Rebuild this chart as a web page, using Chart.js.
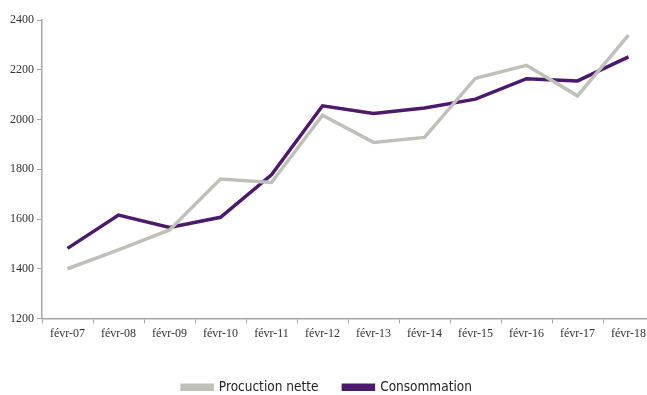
<!DOCTYPE html>
<html>
<head>
<meta charset="utf-8">
<script src="https://cdn.jsdelivr.net/npm/chart.js@4"></script>
<style>
  html, body { margin: 0; padding: 0; background: #fff; overflow: hidden; }
  #wrap { width: 656px; height: 404px; }
</style>
</head>
<body>
<div id="wrap"><canvas id="chart"></canvas></div>
<script>
// séries annuelles (février)
const mois = ["févr-07", "févr-08", "févr-09", "févr-10", "févr-11", "févr-12",
              "févr-13", "févr-14", "févr-15", "févr-16", "févr-17", "févr-18"];
const productionNette = [1400, 1476, 1556, 1761, 1747, 2017, 1908, 1928, 2166, 2218, 2095, 2339];
const consommation = [1482, 1616, 1566, 1607, 1778, 2055, 2024, 2046, 2082, 2164, 2155, 2252];
const yTicks = [1200, 1400, 1600, 1800, 2000, 2200, 2400];

const gris = "#c0c0bb";
const violet = "#4b1a6b";
const axe = "#a6a6a6";
const serif = "'Liberation Serif', 'DejaVu Serif', serif";

new Chart(document.getElementById('chart'), {
  type: 'line',
  data: {
    labels: mois,
    datasets: [{
      label: "Procuction nette",
      data: productionNette,
      borderColor: gris,
      backgroundColor: gris,
      borderWidth: 3.5,
      pointRadius: 0,
      tension: 0
    }, {
      label: "Consommation",
      data: consommation,
      borderColor: violet,
      backgroundColor: violet,
      borderWidth: 3.5,
      pointRadius: 0,
      tension: 0
    }]
  },
  options: {
    responsive: true,
    maintainAspectRatio: false,
    animation: false,
    layout: { padding: { top: 20, right: 2, left: 0, bottom: 0 } },
    plugins: {
      tooltip: { enabled: false },
      legend: {
        position: 'bottom',
        labels: {
          boxWidth: 30,
          boxHeight: 4,
          padding: 25,
          color: '#222',
          font: { family: "'DejaVu Sans Condensed', 'Liberation Sans Narrow', sans-serif", size: 13.5 }
        }
      }
    },
    scales: {
      x: {
        offset: true,
        grid: {
          offset: true,
          drawOnChartArea: false,
          color: axe,
          tickLength: 5
        },
        border: { color: axe, width: 1.5 },
        ticks: {
          color: '#333',
          maxRotation: 0,
          padding: 3,
          font: { family: serif, size: 12 }
        },
        afterFit: s => { s.height = 37; }
      },
      y: {
        min: 1200,
        max: 2400,
        afterBuildTicks: s => { s.ticks = yTicks.map(v => ({ value: v })); },
        grid: {
          drawOnChartArea: false,
          color: axe,
          tickLength: 5
        },
        border: { color: axe, width: 1.5 },
        ticks: {
          color: '#333',
          padding: 3,
          callback: v => String(v),
          font: { family: serif, size: 12 }
        },
        afterFit: s => { s.width = 42; }
      }
    }
  }
});
</script>
</body>
</html>
